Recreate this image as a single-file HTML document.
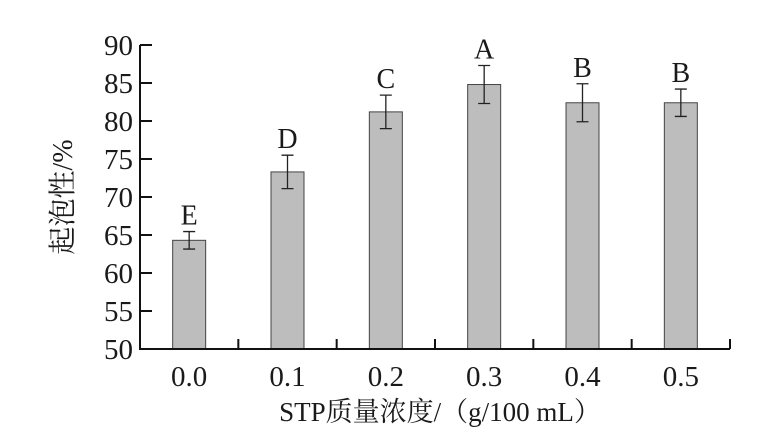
<!DOCTYPE html>
<html><head><meta charset="utf-8"><style>
body{margin:0;background:#fff}
svg text{font-family:"Liberation Serif","Noto Serif CJK SC",serif;fill:#1a1a1a}
</style></head><body>
<svg width="771" height="442" id="c">
<text x="72" y="197" font-size="28" text-anchor="middle" transform="rotate(-90 72 197)">起泡性/%</text>
<text x="440" y="421" font-size="27" text-anchor="middle">STP质量浓度/（g/100 mL）</text>
</svg>
<script>
const categories=["0.0","0.1","0.2","0.3","0.4","0.5"];
const values=[64.3,73.3,81.2,84.8,82.4,82.4];
const errors=[1.15,2.2,2.2,2.5,2.5,1.8];
const letters=["E","D","C","A","B","B"];
const yTicks=[50,55,60,65,70,75,80,85,90];
const svg=document.getElementById('c');
const NS='http://www.w3.org/2000/svg';
const x0=140,x1=730,yTop=45,yBot=349,ymin=50,ymax=90;
const bw=(x1-x0)/categories.length;
function y(v){return yBot-(v-ymin)/(ymax-ymin)*(yBot-yTop);}
function xc(i){return x0+bw*(i+0.5);}
function el(t,a){const e=document.createElementNS(NS,t);for(const k in a)e.setAttribute(k,a[k]);svg.appendChild(e);return e;}
values.forEach((v,i)=>{
 const r=el('rect',{x:xc(i)-16.5,y:y(v),width:33,height:yBot-y(v),fill:'#bdbdbd',stroke:'#444','stroke-width':1});
 
 
 const c=xc(i),t=y(v+errors[i]),b=y(v-errors[i]);
 const p=el('path',{d:`M${c-6},${t}H${c+6}M${c},${t}V${b}M${c-6},${b}H${c+6}`,stroke:'#222','stroke-width':1.3,fill:'none'});
 
 
 const l=el('text',{x:c,y:t-7,'font-size':28,'text-anchor':'middle'});l.textContent=letters[i];
 
 
 const tl=el('text',{x:c,y:386,'font-size':29,'text-anchor':'middle'});tl.textContent=categories[i];
 
 
 const tk=el('line',{x1:x0+bw*(i+1),x2:x0+bw*(i+1),y1:yBot,y2:yBot-10,stroke:'#111','stroke-width':2});
 
 
});
yTicks.forEach(v=>{
 const tk=el('line',{x1:x0,x2:x0+12,y1:y(v),y2:y(v),stroke:'#111','stroke-width':2});
 
 
 const t=el('text',{x:x0-7,y:y(v)+10,'font-size':29,'text-anchor':'end'});t.textContent=v;
 
 
});
const ax=el('path',{d:`M${x0},${yTop}V${yBot}H${x1}`,stroke:'#111','stroke-width':2,fill:'none'});


</script>
</body></html>
